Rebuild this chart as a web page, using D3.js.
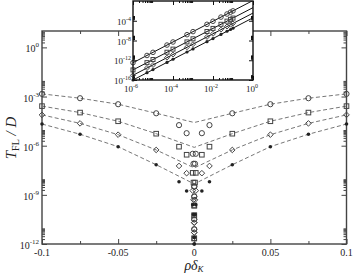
<!DOCTYPE html>
<html>
<head>
<meta charset="utf-8">
<script src="https://cdn.jsdelivr.net/npm/d3@7"></script>
<style>
  body { margin: 0; background: #fff; }
  svg { display: block; }
</style>
</head>
<body>
<script>
// ---- main panel data: T_FL/D vs rho*delta_K (mirrored for +/- x) ----
const guideX = [-0.1, -0.075, -0.05, -0.025, 0, 0.025, 0.05, 0.075, 0.1];
const guideCircle  = [1.45e-3, 7.9e-4, 3.4e-4, 9.5e-5, 2.6e-5, 9.5e-5, 3.4e-4, 7.9e-4, 1.45e-3];
const guideSquare  = [2.6e-4, 1.05e-4, 3.1e-5, 5.4e-6, 7.9e-7, 5.4e-6, 3.1e-5, 1.05e-4, 2.6e-4];
const guideDiamond = [7.6e-5, 2.3e-5, 4.7e-6, 5.5e-7, 4.4e-8, 5.5e-7, 4.7e-6, 2.3e-5, 7.6e-5];
const guideFilled  = [2.1e-5, 5.0e-6, 8.7e-7, 6.9e-8, 4.6e-9, 6.9e-8, 8.7e-7, 5.0e-6, 2.1e-5];

const ptAbsX = [0.1, 0.075, 0.05, 0.025, 0.01, 0.005, 0.001, 0.0005, 0.0001, 0.00005, 0.00001, 0.000005];
const ptCircle  = [1.45e-3, 7.9e-4, 3.4e-4, 9.5e-5, 1.8e-5, 5.8e-6, 3.2e-7, 7.9e-8, 3.2e-9, 7.9e-10, 3.2e-11, 7.9e-12];
const ptSquare  = [2.6e-4, 1.05e-4, 3.1e-5, 5.4e-6, 8.7e-7, 2.8e-7, 2.2e-8, 5.6e-9, 2.2e-10, 5.6e-11, 2.2e-12, null];
const ptDiamond = [7.6e-5, 2.3e-5, 4.7e-6, 5.5e-7, 5.8e-8, 2.1e-8, 1.8e-9, 5.0e-10, 2.0e-11, 5.0e-12, null, null];
const ptFilled  = [2.1e-5, 5.0e-6, 8.7e-7, 6.9e-8, 6.3e-9, 1.7e-9, 2.5e-10, 6.3e-11, 2.5e-12, 1.0e-12, null, null];

const xTickMajor = [-0.1, -0.05, 0, 0.05, 0.1];
const xTickMinor = [-0.075, -0.025, 0.025, 0.075];
const xTickLabels = ["-0.1", "-0.05", "0", "0.05", "0.1"];
const yTickMajor = [1e-12, 1e-9, 1e-6, 1e-3, 1e0];
const yTickExp = ["-12", "-9", "-6", "-3", "0"];

// ---- inset data: log-log ----
const inX = [1e-6, 5e-6, 1e-5, 5e-5, 1e-4, 5e-4, 1e-3, 5e-3, 1e-2, 2.5e-2, 5e-2, 7.5e-2, 1e-1];
const inCircle  = [3.2e-13, 9.3e-12, 4.0e-11, 1.2e-9, 5.0e-9, 1.5e-7, 6.3e-7, 1.9e-5, 7.9e-5, 5.5e-4, 2.3e-3, 5.5e-3, 1.0e-2];
const inSquare  = [1.1e-14, 3.3e-13, 1.4e-12, 4.2e-11, 1.8e-10, 5.2e-9, 2.2e-8, 6.6e-7, 2.8e-6, 1.9e-5, 8.3e-5, 1.9e-4, 3.5e-4];
const inDiamond = [9.1e-16, 2.7e-14, 1.1e-13, 3.4e-12, 1.4e-11, 4.3e-10, 1.8e-9, 5.4e-8, 2.3e-7, 1.6e-6, 6.8e-6, 1.6e-5, 2.9e-5];
const inFilled  = [1.0e-16, 3.0e-15, 1.3e-14, 3.7e-13, 1.6e-12, 4.7e-11, 2.0e-10, 5.9e-9, 2.5e-8, 1.7e-7, 7.4e-7, 1.7e-6, 3.2e-6];
const fitX = [1e-6, 1];
const fitCircle  = [3.2e-13, 1.26];
const fitSquare  = [1.1e-14, 4.5e-2];
const fitDiamond = [9.1e-16, 3.6e-3];
const fitFilled  = [1.0e-16, 4.0e-4];
const inXTickMajor = [1e-6, 1e-4, 1e-2, 1e0];
const inXTickExp = ["-6", "-4", "-2", "0"];
const inYTickMajor = [1e-16, 1e-12, 1e-8, 1e-4];
const inYTickExp = ["-16", "-12", "-8", "-4"];

const W = 353, H = 273;
const M = {left: 42, right: 346.5, top: 31, bottom: 244};
const I = {left: 133, right: 253, top: 1, bottom: 80};
const axisColor = "#444";

const svg = d3.select("body").append("svg")
    .attr("width", W).attr("height", H)
    .style("font-family", "'Liberation Serif', 'DejaVu Serif', serif");

const x = d3.scaleLinear().domain([-0.1, 0.1]).range([M.left, M.right]);
const y = d3.scaleLog().domain([1e-12, 1e1]).range([M.bottom, M.top]);

// minor log ticks: 2..9 times each major
const minorsOf = (majors, max) => majors.flatMap(v => d3.range(2, 10).map(m => m * v)).filter(v => v <= max);

function tickGroup(g, axis, values, size, color) {
    g.call(axis.tickValues(values).tickSize(-size).tickFormat(""));
    g.select(".domain").remove();
    g.selectAll("line").attr("stroke", color).attr("stroke-width", 1);
}

// main ticks
const mainTicks = svg.append("g");
[[d3.axisBottom(x), `translate(0,${M.bottom})`], [d3.axisTop(x), `translate(0,${M.top})`]].forEach(([ax, tr]) => {
    tickGroup(mainTicks.append("g").attr("transform", tr), ax, xTickMajor, 5, axisColor);
});
[[d3.axisBottom(x), `translate(0,${M.bottom})`], [d3.axisTop(x), `translate(0,${M.top})`]].forEach(([ax, tr]) => {
    tickGroup(mainTicks.append("g").attr("transform", tr), ax, xTickMinor, 3, axisColor);
});
const yMinor = minorsOf(yTickMajor, 1e1);
[[d3.axisLeft(y), `translate(${M.left},0)`], [d3.axisRight(y), `translate(${M.right},0)`]].forEach(([ax, tr]) => {
    tickGroup(mainTicks.append("g").attr("transform", tr), ax, yTickMajor, 5, axisColor);
});
[[d3.axisLeft(y), `translate(${M.left},0)`], [d3.axisRight(y), `translate(${M.right},0)`]].forEach(([ax, tr]) => {
    tickGroup(mainTicks.append("g").attr("transform", tr), ax, yMinor, 3, axisColor);
});

svg.append("rect")
    .attr("x", M.left).attr("y", M.top)
    .attr("width", M.right - M.left).attr("height", M.bottom - M.top)
    .attr("fill", "none").attr("stroke", axisColor).attr("stroke-width", 1.4);

// tick labels
svg.append("g").selectAll("text").data(xTickMajor).join("text")
    .attr("x", d => x(d)).attr("y", M.bottom + 12)
    .attr("text-anchor", "middle").attr("font-size", 10).attr("fill", "#222")
    .text((d, i) => xTickLabels[i]);

function powLabel(g, xp, yp, exp, big, small, raise) {
    const t = g.append("text").attr("x", xp).attr("y", yp)
        .attr("text-anchor", "end").attr("fill", "#222");
    t.append("tspan").attr("font-size", big).text("10");
    t.append("tspan").attr("font-size", small).attr("dy", -raise).text(exp);
    return t;
}
const yLab = svg.append("g");
yTickMajor.forEach((v, i) => powLabel(yLab, M.left - 3, y(v) + 5, yTickExp[i], 10, 7, 5));

// dashed guides
const line = d3.line().x(d => x(d[0])).y(d => y(d[1]));
const guides = [guideCircle, guideSquare, guideDiamond, guideFilled];
svg.append("g").selectAll("path").data(guides).join("path")
    .attr("d", vals => line(guideX.map((gx, i) => [gx, vals[i]])))
    .attr("fill", "none").attr("stroke", "#777").attr("stroke-width", 1)
    .attr("stroke-dasharray", "4,2.5");

// marker drawing
function drawMarker(g, kind, cx, cy, s) {
    if (kind === "circle") {
        g.append("circle").attr("cx", cx).attr("cy", cy).attr("r", s)
            .attr("fill", "none").attr("stroke", "#444").attr("stroke-width", 1);
    } else if (kind === "square") {
        g.append("rect").attr("x", cx - s).attr("y", cy - s).attr("width", 2 * s).attr("height", 2 * s)
            .attr("fill", "none").attr("stroke", "#444").attr("stroke-width", 1);
    } else if (kind === "diamond") {
        g.append("path").attr("d", `M${cx},${cy - s}L${cx + s},${cy}L${cx},${cy + s}L${cx - s},${cy}Z`)
            .attr("fill", "none").attr("stroke", "#444").attr("stroke-width", 1);
    } else {
        g.append("circle").attr("cx", cx).attr("cy", cy).attr("r", s)
            .attr("fill", "#222").attr("stroke", "none");
    }
}

const seriesMain = [
    {kind: "circle", vals: ptCircle, s: 2.6},
    {kind: "square", vals: ptSquare, s: 2.3},
    {kind: "diamond", vals: ptDiamond, s: 2.8},
    {kind: "filled", vals: ptFilled, s: 1.8}
];
const markG = svg.append("g");
seriesMain.forEach(sr => {
    ptAbsX.forEach((ax, i) => {
        const v = sr.vals[i];
        if (v == null) return;
        [-ax, ax].forEach(xv => drawMarker(markG, sr.kind, x(xv), y(v), sr.s));
    });
});

// axis titles
const xt = svg.append("text").attr("x", 194).attr("y", 270)
    .attr("text-anchor", "middle").attr("fill", "#222");
xt.append("tspan").attr("font-size", 14).attr("font-style", "italic").text("ρδ");
xt.append("tspan").attr("font-size", 9).attr("font-style", "italic").attr("dy", 2).text("K");

const yt = svg.append("text").attr("transform", "translate(16,138) rotate(-90)")
    .attr("text-anchor", "middle").attr("fill", "#222");
yt.append("tspan").attr("font-size", 15).attr("font-style", "italic").text("T");
yt.append("tspan").attr("font-size", 10).attr("dy", 3).text("FL");
yt.append("tspan").attr("font-size", 15).attr("font-style", "italic").attr("dy", -3).text(" / D");

// ---- inset ----
const xi = d3.scaleLog().domain([1e-6, 1]).range([I.left, I.right]);
const yi = d3.scaleLog().domain([1e-16, 1]).range([I.bottom, I.top]);
const inset = svg.append("g");
inset.append("rect").attr("x", I.left).attr("y", I.top)
    .attr("width", I.right - I.left).attr("height", I.bottom - I.top).attr("fill", "#fff");

svg.append("clipPath").attr("id", "inclip").append("rect")
    .attr("x", I.left).attr("y", I.top).attr("width", I.right - I.left).attr("height", I.bottom - I.top);

const inTicks = inset.append("g");
const inXMinor = minorsOf(inXTickMajor, 1);
const inYMinor = minorsOf(inYTickMajor, 1);
[[d3.axisBottom(xi), `translate(0,${I.bottom})`], [d3.axisTop(xi), `translate(0,${I.top})`]].forEach(([ax, tr]) => {
    tickGroup(inTicks.append("g").attr("transform", tr), ax, inXTickMajor, 4, "#111");
    tickGroup(inTicks.append("g").attr("transform", tr), ax, inXMinor, 2, "#111");
});
[[d3.axisLeft(yi), `translate(${I.left},0)`], [d3.axisRight(yi), `translate(${I.right},0)`]].forEach(([ax, tr]) => {
    tickGroup(inTicks.append("g").attr("transform", tr), ax, inYTickMajor, 4, "#111");
    tickGroup(inTicks.append("g").attr("transform", tr), ax, inYMinor, 2, "#111");
});

const fitLine = d3.line().x(d => xi(d[0])).y(d => yi(d[1]));
inset.append("g").attr("clip-path", "url(#inclip)").selectAll("path")
    .data([fitCircle, fitSquare, fitDiamond, fitFilled]).join("path")
    .attr("d", vals => fitLine(fitX.map((fx, i) => [fx, vals[i]])))
    .attr("fill", "none").attr("stroke", "#111").attr("stroke-width", 1);

const seriesInset = [
    {kind: "circle", vals: inCircle, s: 2.3},
    {kind: "square", vals: inSquare, s: 2.0},
    {kind: "diamond", vals: inDiamond, s: 2.5},
    {kind: "filled", vals: inFilled, s: 1.6}
];
const inMarks = inset.append("g");
seriesInset.forEach(sr => {
    inX.forEach((xv, i) => drawMarker(inMarks, sr.kind, xi(xv), yi(sr.vals[i]), sr.s));
});

inset.append("rect").attr("x", I.left).attr("y", I.top)
    .attr("width", I.right - I.left).attr("height", I.bottom - I.top)
    .attr("fill", "none").attr("stroke", "#111").attr("stroke-width", 1.4);

inXTickMajor.forEach((v, i) => powLabel(inset, xi(v) + 5, I.bottom + 12, inXTickExp[i], 9, 6, 4));
inYTickMajor.forEach((v, i) => powLabel(inset, I.left - 2, yi(v) + 4, inYTickExp[i], 9, 6, 4));
</script>
</body>
</html>
